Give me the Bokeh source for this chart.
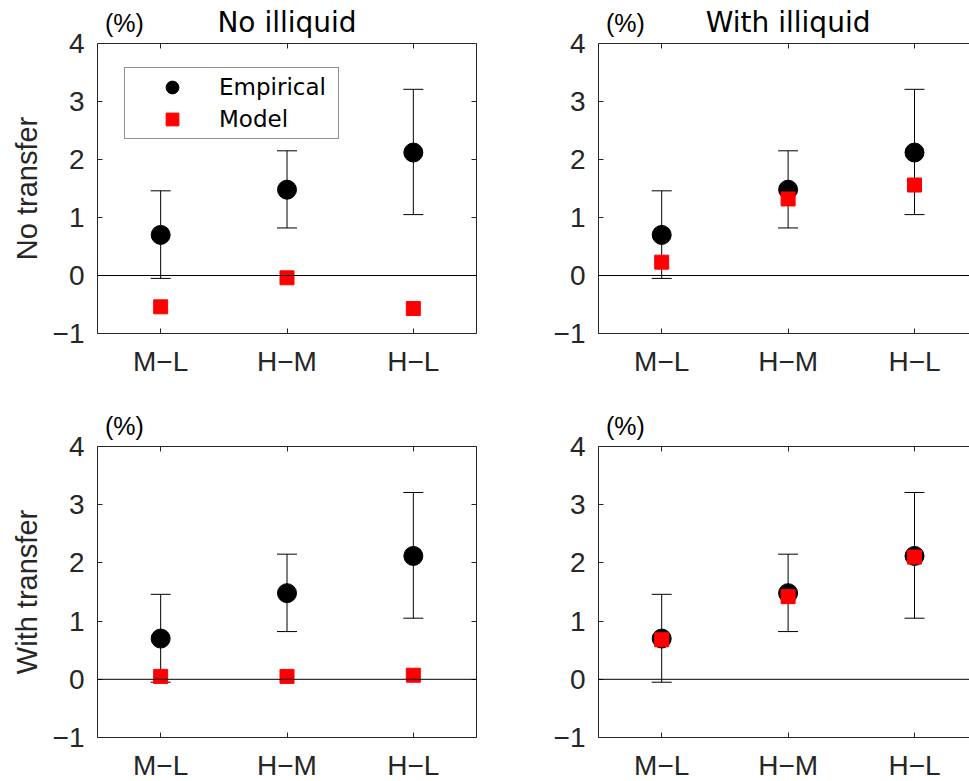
from bokeh.plotting import figure
from bokeh.layouts import gridplot
from bokeh.models import (ColumnDataSource, Whisker, TeeHead, Span, FixedTicker,
                          LinearAxis, Legend, LegendItem, Range1d)
from bokeh.embed import file_html
from bokeh.resources import INLINE

TICK_FONT = "Liberation Sans"
TITLE_FONT = "DejaVu Sans"
AX = "#262626"

# ---- data ----
categories = ["M−L", "H−M", "H−L"]
empirical = [0.70, 1.48, 2.12]
emp_upper = [1.46, 2.15, 3.21]
emp_lower = [-0.05, 0.82, 1.05]
model_notransfer_noilliquid = [-0.54, -0.04, -0.57]
model_notransfer_withilliquid = [0.23, 1.32, 1.56]
model_withtransfer_noilliquid = [0.05, 0.05, 0.07]
model_withtransfer_withilliquid = [0.68, 1.42, 2.10]
y_ticks = [-1, 0, 1, 2, 3, 4]
y_tick_labels = ["−1", "0", "1", "2", "3", "4"]
col_titles = ["No illiquid", "With illiquid"]
row_titles = ["No transfer", "With transfer"]
unit_label = "(%)"
series_names = ["Empirical", "Model"]


def style_axis(ax, ticks, labels, show, standoff=10):
    ax.ticker = FixedTicker(ticks=ticks, minor_ticks=[])
    ax.minor_tick_line_color = None
    ax.major_tick_in = 5
    ax.major_tick_out = 0
    ax.axis_line_color = AX
    ax.axis_line_width = 1
    ax.major_tick_line_color = AX
    if show:
        ax.major_label_overrides = {t: l for t, l in zip(ticks, labels)}
        ax.major_label_text_font = TICK_FONT
        ax.major_label_text_color = AX
        ax.major_label_text_font_size = "28px"
        ax.major_label_standoff = standoff
    else:
        ax.major_label_text_font_size = "0px"
        ax.major_label_text_color = None
        ax.major_label_standoff = 0


def header_axis(pos, txt, font, size, standoff):
    hb = LinearAxis()
    hb.ticker = FixedTicker(ticks=pos, minor_ticks=[])
    hb.major_label_overrides = {t: s for t, s in zip(pos, txt)}
    hb.axis_line_color = None
    hb.major_tick_line_color = None
    hb.minor_tick_line_color = None
    hb.major_tick_in = 0
    hb.major_tick_out = 0
    hb.major_label_standoff = standoff
    hb.major_label_text_font = font
    hb.major_label_text_font_size = size
    hb.major_label_text_color = "black"
    return hb


def make_panel(model_vals, col, row, legend=False):
    left = col == 0
    top = row == 0
    frame_w = 379 if left else 371
    frame_h = 290 if top else 291
    x_end = 3.5 if left else 3.435
    x = list(range(1, len(categories) + 1))
    src = ColumnDataSource(dict(x=x, emp=empirical, lo=emp_lower, hi=emp_upper,
                                model=model_vals))
    p = figure(frame_width=frame_w, frame_height=frame_h,
               x_range=Range1d(0.5, x_end), y_range=Range1d(-1, 4),
               output_backend="svg", toolbar_location=None,
               x_axis_location=None, y_axis_location=None,
               min_border_left=97 if left else 61,
               min_border_right=61 if left else 0,
               min_border_top=43 if top else 56,
               min_border_bottom=57 if top else 44)
    p.outline_line_color = None
    p.xgrid.visible = False
    p.ygrid.visible = False
    p.background_fill_color = "white"
    p.border_fill_color = "white"

    bx = LinearAxis(); style_axis(bx, x, categories, True, 12 if top else 12)
    ax_ = LinearAxis(); style_axis(ax_, x, categories, False)
    ly = LinearAxis(); style_axis(ly, y_ticks, y_tick_labels, True, 13)
    if left:
        ly.axis_label = row_titles[row]
        ly.axis_label_text_font = TICK_FONT
        ly.axis_label_text_font_size = "29px"
        ly.axis_label_text_font_style = "normal"
        ly.axis_label_text_color = AX
        ly.axis_label_standoff = 7
    p.add_layout(bx, "below")
    p.add_layout(ax_, "above")
    p.add_layout(ly, "left")
    if left:
        ry = LinearAxis(); style_axis(ry, y_ticks, y_tick_labels, False)
        p.add_layout(ry, "right")

    # header line above the frame: unit marker and column title
    unit_x = 0.5 + 27 / 126.5
    p.add_layout(header_axis([unit_x], [unit_label], TICK_FONT, "25px", 7), "above")
    if top:
        p.add_layout(header_axis([2.0], [col_titles[col]], TITLE_FONT, "28px", -33), "above")

    p.add_layout(Span(location=0, dimension="width", line_color="black", line_width=1))

    p.add_layout(Whisker(source=src, base="x", upper="hi", lower="lo",
                         line_color="black", line_width=1,
                         upper_head=TeeHead(size=20, line_color="black", line_width=1),
                         lower_head=TeeHead(size=20, line_color="black", line_width=1)))
    r_emp = p.scatter("x", "emp", source=src, marker="circle", size=19,
                      fill_color="black", line_color="black")
    r_mod = p.scatter("x", "model", source=src, marker="square", size=14,
                      fill_color="#ff0000", line_color="#ff0000")

    if legend:
        lg = Legend(items=[LegendItem(label=series_names[0], renderers=[r_emp]),
                           LegendItem(label=series_names[1], renderers=[r_mod])],
                    location=(27, 194), margin=0, padding=3, spacing=0,
                    glyph_width=88, glyph_height=32, label_standoff=3,
                    label_width=116, label_height=32,
                    border_line_color=AX, border_line_width=1,
                    background_fill_color="white", background_fill_alpha=1,
                    label_text_font=TITLE_FONT, label_text_font_size="23px",
                    label_text_color="black")
        p.add_layout(lg, "center")
    return p


p1 = make_panel(model_notransfer_noilliquid, 0, 0, legend=True)
p2 = make_panel(model_notransfer_withilliquid, 1, 0)
p3 = make_panel(model_withtransfer_noilliquid, 0, 1)
p4 = make_panel(model_withtransfer_withilliquid, 1, 1)

grid = gridplot([[p1, p2], [p3, p4]], toolbar_location=None)
open("out.html", "w").write(file_html(grid, INLINE))
